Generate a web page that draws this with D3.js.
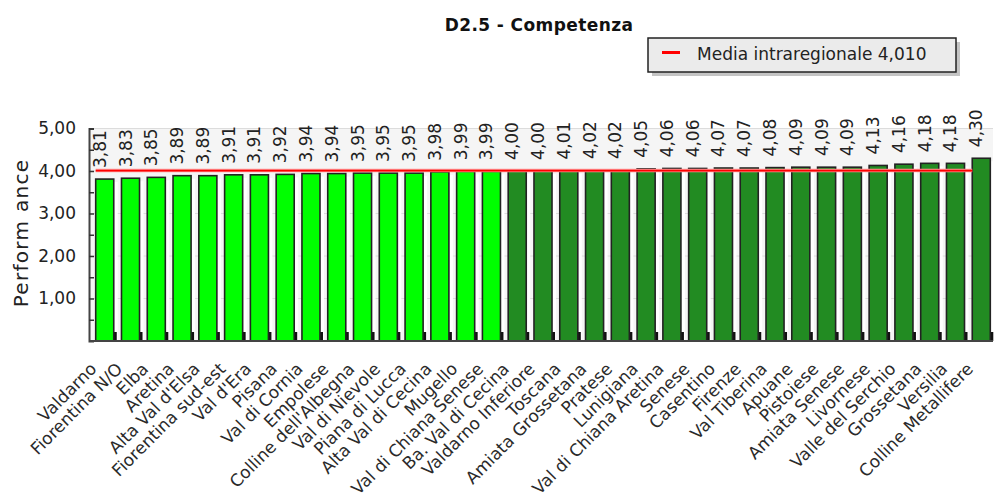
<!DOCTYPE html>
<html><head><meta charset="utf-8">
<script src="https://cdn.jsdelivr.net/npm/d3@7"></script>
<style>
html,body{margin:0;padding:0;background:#fff;}
svg{display:block;font-family:"DejaVu Sans",Verdana,sans-serif;}
</style></head>
<body>
<svg id="chart" width="997" height="504"></svg>
<script>
const chartTitle = "D2.5 - Competenza";
const yAxisTitle = "Perform ance";
const legendLabel = "Media intraregionale 4,010";
const mediaValue = 4.01;
const categories = ["Valdarno","Fiorentina N/O","Elba","Aretina","Alta Val d'Elsa","Fiorentina sud-est","Val d'Era","Pisana","Val di Cornia","Empolese","Colline dell'Albegna","Val di Nievole","Piana di Lucca","Alta Val di Cecina","Mugello","Val di Chiana Senese","Ba. Val di Cecina","Valdarno Inferiore","Toscana","Amiata Grossetana","Pratese","Lunigiana","Val di Chiana Aretina","Senese","Casentino","Firenze","Val Tiberina","Apuane","Pistoiese","Amiata Senese","Livornese","Valle del Serchio","Grossetana","Versilia","Colline Metallifere"];
const values = [3.81,3.83,3.85,3.89,3.89,3.91,3.91,3.92,3.94,3.94,3.95,3.95,3.95,3.98,3.99,3.99,4.00,4.00,4.01,4.02,4.02,4.05,4.06,4.06,4.07,4.07,4.08,4.09,4.09,4.09,4.13,4.16,4.18,4.18,4.30];
const groups = ["below","below","below","below","below","below","below","below","below","below","below","below","below","below","below","below","above","above","above","above","above","above","above","above","above","above","above","above","above","above","above","above","above","above","above"];
const yTickValues = [0.5,1,1.5,2,2.5,3,3.5,4,4.5,5];
const yLabelValues = [1,2,3,4,5];
const groupColors = {below:"#00ff00", above:"#228b22"};

const svg = d3.select("#chart");
const plot = {left:89, right:993, top:128.5, bottom:341};

const x = d3.scaleBand().domain(categories).range([plot.left, 997]).paddingInner(0.3).paddingOuter(0.26);
const y = d3.scaleLinear().domain([0,5]).range([plot.bottom, plot.top]);
const fmt = v => d3.format(".2f")(v).replace(".", ",");

// title
svg.append("text").attr("x", 539).attr("y", 31).attr("text-anchor","middle")
  .attr("font-size", 17).attr("font-weight","bold").attr("letter-spacing",0.4).attr("fill","#111").text(chartTitle);

// legend
const lg = svg.append("g");
lg.append("rect").attr("x",652).attr("y",42).attr("width",308).attr("height",34).attr("fill","#c4c4c4");
lg.append("rect").attr("x",648).attr("y",38).attr("width",308).attr("height",34).attr("fill","#ebebeb").attr("stroke","#222").attr("stroke-width",1.5);
lg.append("line").attr("x1",662).attr("x2",680).attr("y1",52.5).attr("y2",52.5).attr("stroke","#ff0000").attr("stroke-width",3);
lg.append("text").attr("x",697).attr("y",60).attr("font-size",17).attr("fill","#222").text(legendLabel);

// plot background
svg.append("rect").attr("x",plot.left).attr("y",plot.top).attr("width",plot.right-plot.left).attr("height",plot.bottom-plot.top).attr("fill","#f5f5f5");

// gridlines
svg.append("g").selectAll("line").data(yLabelValues).join("line")
  .attr("x1",plot.left).attr("x2",plot.right).attr("y1",d=>y(d)).attr("y2",d=>y(d))
  .attr("stroke","#dcdcdc").attr("stroke-width",1);

// bars
const bw = x.bandwidth();
const bars = svg.append("g");
categories.forEach((c,i)=>{
  const x0 = x(c), yt = y(values[i]);
  bars.append("rect").attr("x",x0+bw).attr("y",yt+3).attr("width",4).attr("height",y(0)-yt-3).attr("fill","#ffffff");
  bars.append("rect").attr("x",x0+bw).attr("y",y(0)-9).attr("width",3).attr("height",9).attr("fill","#111");
  bars.append("rect").attr("x",x0).attr("y",yt).attr("width",bw).attr("height",y(0)-yt)
    .attr("fill",groupColors[groups[i]]).attr("stroke","#222").attr("stroke-width",1.6);
});

// media line
const lx1 = x(categories[0]), lx2 = x(categories[categories.length-1]);
svg.append("line").attr("x1",lx1).attr("x2",lx2).attr("y1",y(mediaValue)).attr("y2",y(mediaValue))
  .attr("stroke","#ff9999").attr("stroke-width",3.5);
svg.append("line").attr("x1",lx1).attr("x2",lx2).attr("y1",y(mediaValue)).attr("y2",y(mediaValue))
  .attr("stroke","#ff0000").attr("stroke-width",1.8);

// value labels
svg.append("g").selectAll("text").data(categories).join("text")
  .attr("transform",(c,i)=>`translate(${x(c)+bw/2+1},${y(values[i])-30}) rotate(-90)`)
  .attr("text-anchor","middle").attr("font-size",17).attr("fill","#222")
  .text((c,i)=>fmt(values[i]));

// y axis
const yAxis = d3.axisLeft(y).tickValues(yTickValues).tickSize(-5).tickPadding(13)
  .tickFormat(d => yLabelValues.includes(d) ? fmt(d) : "");
const ya = svg.append("g").attr("transform",`translate(${plot.left},0)`).call(yAxis);
ya.select(".domain").attr("stroke","#444").attr("stroke-width",2);
ya.selectAll(".tick line").attr("stroke","#333").attr("stroke-width",1.5);
ya.selectAll(".tick text").attr("font-size",17).attr("fill","#222").attr("font-family","DejaVu Sans");

// x axis
const xAxis = d3.axisBottom(x).tickSize(0).tickPadding(0);
const xa = svg.append("g").attr("transform",`translate(0,${plot.bottom})`).call(xAxis);
xa.select(".domain").attr("d",`M${plot.left},0H${plot.right}`).attr("stroke","#444").attr("stroke-width",2);
xa.selectAll(".tick text").attr("font-size",17).attr("fill","#2a2a2a").attr("font-family","DejaVu Sans")
  .attr("text-anchor","end").attr("dy",null).attr("y",null)
  .attr("transform",`translate(${-bw/2+2},29) rotate(-45)`);

// y title
svg.append("text").attr("transform","translate(28,233) rotate(-90)").attr("text-anchor","middle")
  .attr("font-size",20).attr("letter-spacing",1.3).attr("fill","#222").text(yAxisTitle);
</script>
</body></html>
